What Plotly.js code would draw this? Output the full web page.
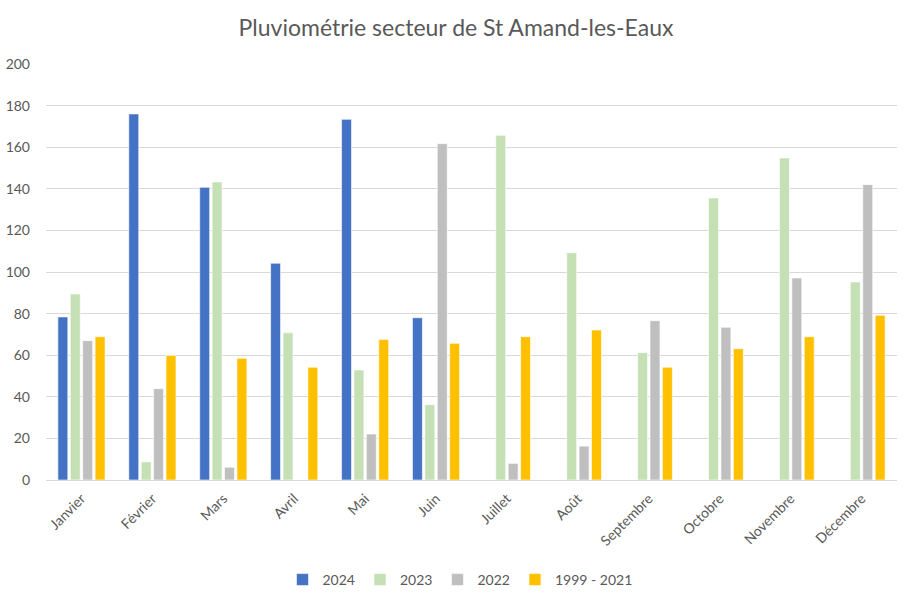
<!DOCTYPE html>
<html>
<head>
<meta charset="utf-8">
<script src="https://cdn.plot.ly/plotly-3.0.1.min.js"></script>
<style>html,body{margin:0;padding:0;background:#fff;}#chart{width:907px;height:600px;}</style>
</head>
<body>
<div id="chart"></div>
<script>
const months = ["Janvier","Février","Mars","Avril","Mai","Juin","Juillet","Août","Septembre","Octobre","Novembre","Décembre"];
const s2024 = [78.4, 176, 140.7, 104.2, 173.4, 78, null, null, null, null, null, null];
const s2023 = [89.4, 8.7, 143.3, 70.8, 52.9, 36.2, 165.7, 109.3, 61.2, 135.6, 154.8, 95.2];
const s2022 = [67, 43.9, 6.1, null, 22.1, 161.7, 8, 16.3, 76.6, 73.4, 97.1, 142];
const sAvg = [68.9, 59.9, 58.5, 54.2, 67.6, 65.7, 68.9, 72.1, 54.2, 63.1, 68.9, 79.2];
const names = ["2024","2023","2022","1999 - 2021"];
const colors = ["#4472C4","#C5E0B4","#BFBFBF","#FFC000"];
const series = [s2024, s2023, s2022, sAvg];

const traces = series.map((s,i)=>({
  type:'bar', x: months, y: s, name: names[i],
  marker:{color: colors[i], line:{color:'#ffffff', width:0.6}},
  hoverinfo:'x+y+name'
}));

const layout = {
  width:907, height:600,
  paper_bgcolor:'#fff', plot_bgcolor:'#fff',
  font:{family:'Lato, "Open Sans", sans-serif', color:'#595959', size:14},
  title:{text:'Pluviométrie secteur de St Amand-les-Eaux', font:{size:23, color:'#595959'},
         x:456/907, xref:'container', y:1-28/600, yref:'container', yanchor:'middle'},
  margin:{l:46, r:10, t:64, b:120},
  barmode:'group', bargap:0.3, bargroupgap:0.2,
  xaxis:{tickangle:-45, showgrid:false, showline:true, linecolor:'#D9D9D9', linewidth:1,
         ticks:'', tickfont:{size:14, color:'#595959'}, ticklabelstandoff:4},
  yaxis:{range:[0,200], dtick:20, showgrid:true, gridcolor:'#D9D9D9', gridwidth:1,
         zeroline:true, zerolinecolor:'#D9D9D9', showline:false, ticks:'',
         tickfont:{size:14, color:'#595959'}, ticklabelstandoff:15},
  legend:{orientation:'h', x:460/907, xanchor:'center', xref:'container', y:(600-580)/600, yref:'container', yanchor:'middle',
          font:{size:14, color:'#595959'}, itemwidth:30, traceorder:'normal'},
  showlegend:true
};
Plotly.newPlot('chart', traces, layout, {displayModeBar:false, staticPlot:true});
</script>
</body>
</html>
